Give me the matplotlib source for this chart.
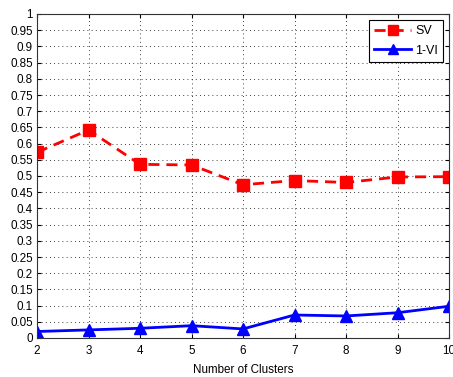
import matplotlib
matplotlib.use("Agg")
import matplotlib.pyplot as plt
import numpy as np

plt.rcParams['font.family'] = ['Liberation Sans', 'DejaVu Sans']

clusters = [2, 3, 4, 5, 6, 7, 8, 9, 10]
sv = [0.573, 0.642, 0.536, 0.534, 0.473, 0.486, 0.480, 0.497, 0.498]
one_minus_vi = [0.020, 0.025, 0.030, 0.038, 0.028, 0.071, 0.068, 0.078, 0.098]
yticks = np.round(np.arange(0, 1.0001, 0.05), 2)
ytick_labels = [('%g' % v) for v in yticks]

fig = plt.figure(figsize=(4.53, 3.77), dpi=100)
ax = fig.add_axes([37 / 453, 1 - 338 / 377, (449 - 37) / 453, (338 - 14) / 377])

ax.plot(clusters, sv, color='red', linestyle='--', linewidth=2,
        marker='s', markersize=9, label='SV', dashes=(4, 2.5))
ax.plot(clusters, one_minus_vi, color='blue', linestyle='-', linewidth=2,
        marker='^', markersize=9, label='1-VI')

ax.set_xlim(2, 10)
ax.set_ylim(0, 1)
ax.set_xticks(clusters)
ax.set_yticks(yticks)
ax.set_yticklabels(ytick_labels)
ax.tick_params(axis='both', direction='in', labelsize=8.4, length=3,
               top=True, right=True)
ax.tick_params(axis='x', pad=5)
ax.tick_params(axis='y', pad=3)
ax.grid(True, linestyle=(0, (1, 4)), color='black', linewidth=0.6)
ax.set_xlabel('Number of Clusters', fontsize=8.4, labelpad=5)
for s in ax.spines.values():
    s.set_linewidth(0.8)
    s.set_color('#333333')

leg = ax.legend(loc='upper right', fontsize=9, fancybox=False, framealpha=1,
                edgecolor='black', borderaxespad=0.45, handlelength=2.9,
                handletextpad=0.35, labelspacing=0.6, borderpad=0.45,
                markerscale=0.85)
leg.get_frame().set_linewidth(0.8)

fig.savefig('out.png', dpi=100)
